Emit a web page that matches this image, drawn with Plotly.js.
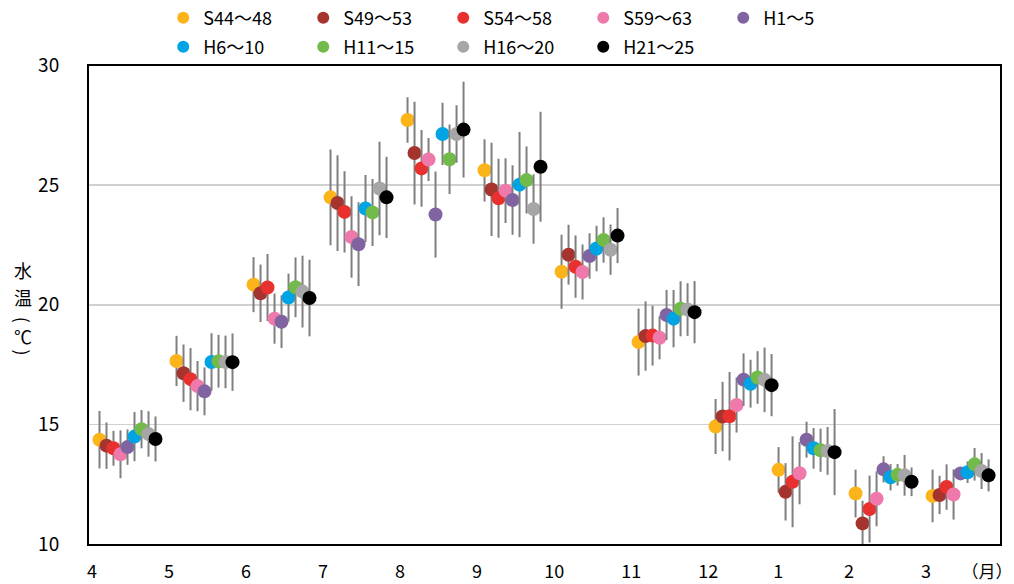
<!DOCTYPE html>
<html>
<head>
<meta charset="utf-8">
<script src="https://cdn.plot.ly/plotly-3.0.1.min.js"></script>
<style>html,body{margin:0;padding:0;background:#fff;}#chart{width:1014px;height:584px;}</style>
</head>
<body>
<div id="chart"></div>
<script>
// Month categories (April → March)
const months = ['4', '5', '6', '7', '8', '9', '10', '11', '12', '1', '2', '3'];
const unitLabel = '（月）';

// Series names
const seriesNames = ['S44～48', 'S49～53', 'S54～58', 'S59～63', 'H1～5', 'H6～10', 'H11～15', 'H16～20', 'H21～25'];

// Mean water temperature (°C) per month, per period
const s44 = [14.36, 17.65, 20.84, 24.49, 27.72, 25.62, 21.38, 18.44, 14.91, 13.10, 12.11, 12.01];
const s49 = [14.11, 17.14, 20.48, 24.25, 26.34, 24.82, 22.09, 18.69, 15.33, 12.18, 10.86, 12.05];
const s54 = [14.00, 16.89, 20.72, 23.88, 25.70, 24.45, 21.59, 18.71, 15.34, 12.60, 11.46, 12.38];
const s59 = [13.75, 16.60, 19.42, 22.83, 26.07, 24.77, 21.37, 18.62, 15.81, 12.96, 11.89, 12.07];
const h1  = [14.05, 16.38, 19.29, 22.53, 23.77, 24.38, 22.04, 19.57, 16.87, 14.36, 13.12, 12.95];
const h6  = [14.49, 17.61, 20.30, 24.02, 27.14, 25.02, 22.35, 19.42, 16.70, 14.00, 12.79, 13.00];
const h11 = [14.80, 17.64, 20.73, 23.86, 26.08, 25.21, 22.71, 19.83, 16.96, 13.92, 12.89, 13.33];
const h16 = [14.60, 17.61, 20.55, 24.86, 27.14, 24.00, 22.30, 19.80, 16.86, 13.89, 12.87, 13.05];
const h21 = [14.39, 17.60, 20.28, 24.49, 27.32, 25.77, 22.89, 19.69, 16.64, 13.84, 12.60, 12.87];

// Standard deviation (error bar half-length, °C)
const s44Err = [1.20, 1.05, 1.15, 2.00, 0.95, 1.30, 1.55, 1.40, 1.15, 0.95, 1.00, 1.10];
const s49Err = [0.97, 1.20, 1.20, 2.00, 2.15, 1.95, 1.25, 1.45, 1.45, 1.20, 0.95, 0.80];
const s54Err = [0.73, 1.30, 1.40, 1.70, 1.60, 1.65, 1.30, 1.25, 1.85, 1.90, 1.40, 0.95];
const s59Err = [1.00, 1.05, 1.05, 1.70, 0.90, 1.35, 1.15, 0.90, 1.15, 1.30, 1.15, 1.05];
const h1Err  = [0.74, 1.00, 1.10, 1.75, 1.80, 1.45, 0.95, 1.05, 1.10, 0.75, 0.55, 0.25];
const h6Err  = [1.03, 1.20, 1.00, 1.40, 1.30, 2.20, 0.95, 1.20, 1.00, 0.85, 0.55, 0.45];
const h11Err = [0.80, 1.10, 1.25, 1.40, 1.45, 1.40, 0.95, 1.15, 1.10, 0.90, 0.45, 0.68];
const h16Err = [0.95, 1.10, 1.50, 1.95, 1.20, 1.45, 1.05, 1.10, 1.35, 1.00, 0.85, 0.75];
const h21Err = [0.94, 1.20, 1.60, 1.70, 2.00, 2.30, 1.15, 1.30, 1.30, 1.80, 0.60, 0.67];

const seriesValues = [s44, s49, s54, s59, h1, h6, h11, h16, h21];
const seriesErrors = [s44Err, s49Err, s54Err, s59Err, h1Err, h6Err, h11Err, h16Err, h21Err];

// ---- styling / layout (not data) ----
const colors = ['#FBB41A', '#A5342F', '#E8312F', '#EE79AA', '#8064A2', '#00A3E3', '#72BA4A', '#A6A6A6', '#000000'];
// horizontal start of each month group (the source chart has no gap between Dec and Jan)
const groupStart = [0, 1, 2, 3, 4, 5, 6, 7, 8, 8.818, 9.818, 10.818];
const tickPos = [0.04, 1.04, 2.04, 3.04, 4.04, 5.04, 6.04, 7.04, 8.04, 8.95, 9.87, 10.87, 11.66];
const slot = 1 / 11;

const font = '"Noto Sans CJK JP", "Noto Sans", sans-serif';

const traces = seriesNames.map((name, j) => ({
  type: 'scatter',
  mode: 'markers',
  name: name,
  x: groupStart.map(s => s + (j + 1.5) * slot),
  y: seriesValues[j],
  error_y: { type: 'data', array: seriesErrors[j], symmetric: true, visible: true,
             color: '#7F7F7F', thickness: 2, width: 0 },
  marker: { color: colors[j], size: 14, line: { width: 0 } },
  legend: j < 5 ? 'legend' : 'legend2',
  cliponaxis: true
}));

const legendCommon = {
  orientation: 'h', xref: 'paper', yref: 'container', xanchor: 'left', yanchor: 'middle',
  entrywidth: 95, itemsizing: 'constant', font: { family: font, size: 18, color: '#000' },
  bgcolor: 'rgba(0,0,0,0)', borderwidth: 0, tracegroupgap: 0, itemclick: false
};

// vertical (stacked) y-axis title: 水 温 （ ℃ ）
const yTitleChars = [
  { t: '水', y: 268, a: 0 },
  { t: '温', y: 295, a: 0 },
  { t: '(', y: 318, a: 90 },
  { t: '℃', y: 334, a: 0 },
  { t: ')', y: 351, a: 90 }
];

const layout = {
  width: 1014, height: 584,
  margin: { l: 89, r: 14, t: 62, b: 40 },
  paper_bgcolor: '#fff', plot_bgcolor: '#fff',
  font: { family: font, size: 18, color: '#000' },
  showlegend: true,
  legend: Object.assign({}, legendCommon, { x: 0.0815, y: 1 - 18 / 584 }),
  legend2: Object.assign({}, legendCommon, { x: 0.0815, y: 1 - 47 / 584 }),
  xaxis: {
    range: [0, 11.83], fixedrange: true,
    tickmode: 'array', tickvals: tickPos,
    ticktext: months.concat(['<span style="font-size:17px">' + unitLabel + '</span>']),
    showgrid: false, zeroline: false, ticks: '',
    showline: true, mirror: true, linecolor: '#000', linewidth: 2,
    ticklabelstandoff: 10, ticklabeloverflow: 'allow',
    tickfont: { family: font, size: 18, color: '#000' }
  },
  yaxis: {
    range: [10, 30], fixedrange: true, tickmode: 'linear', tick0: 10, dtick: 5,
    showgrid: true, gridcolor: '#D0D0D0', gridwidth: 1.5, zeroline: false, ticks: '',
    showline: true, mirror: true, linecolor: '#000', linewidth: 2,
    ticklabelstandoff: 24, tickfont: { family: font, size: 19, color: '#000' }
  },
  annotations: yTitleChars.map(c => ({
    text: c.t, xref: 'paper', yref: 'paper', x: (23 - 89) / 911, y: (544 - c.y) / 482,
    xanchor: 'center', yanchor: 'middle', showarrow: false, textangle: c.a,
    font: { family: font, size: 18, color: '#000' }
  }))
};

Plotly.newPlot('chart', traces, layout, { displayModeBar: false, staticPlot: true });
</script>
</body>
</html>
